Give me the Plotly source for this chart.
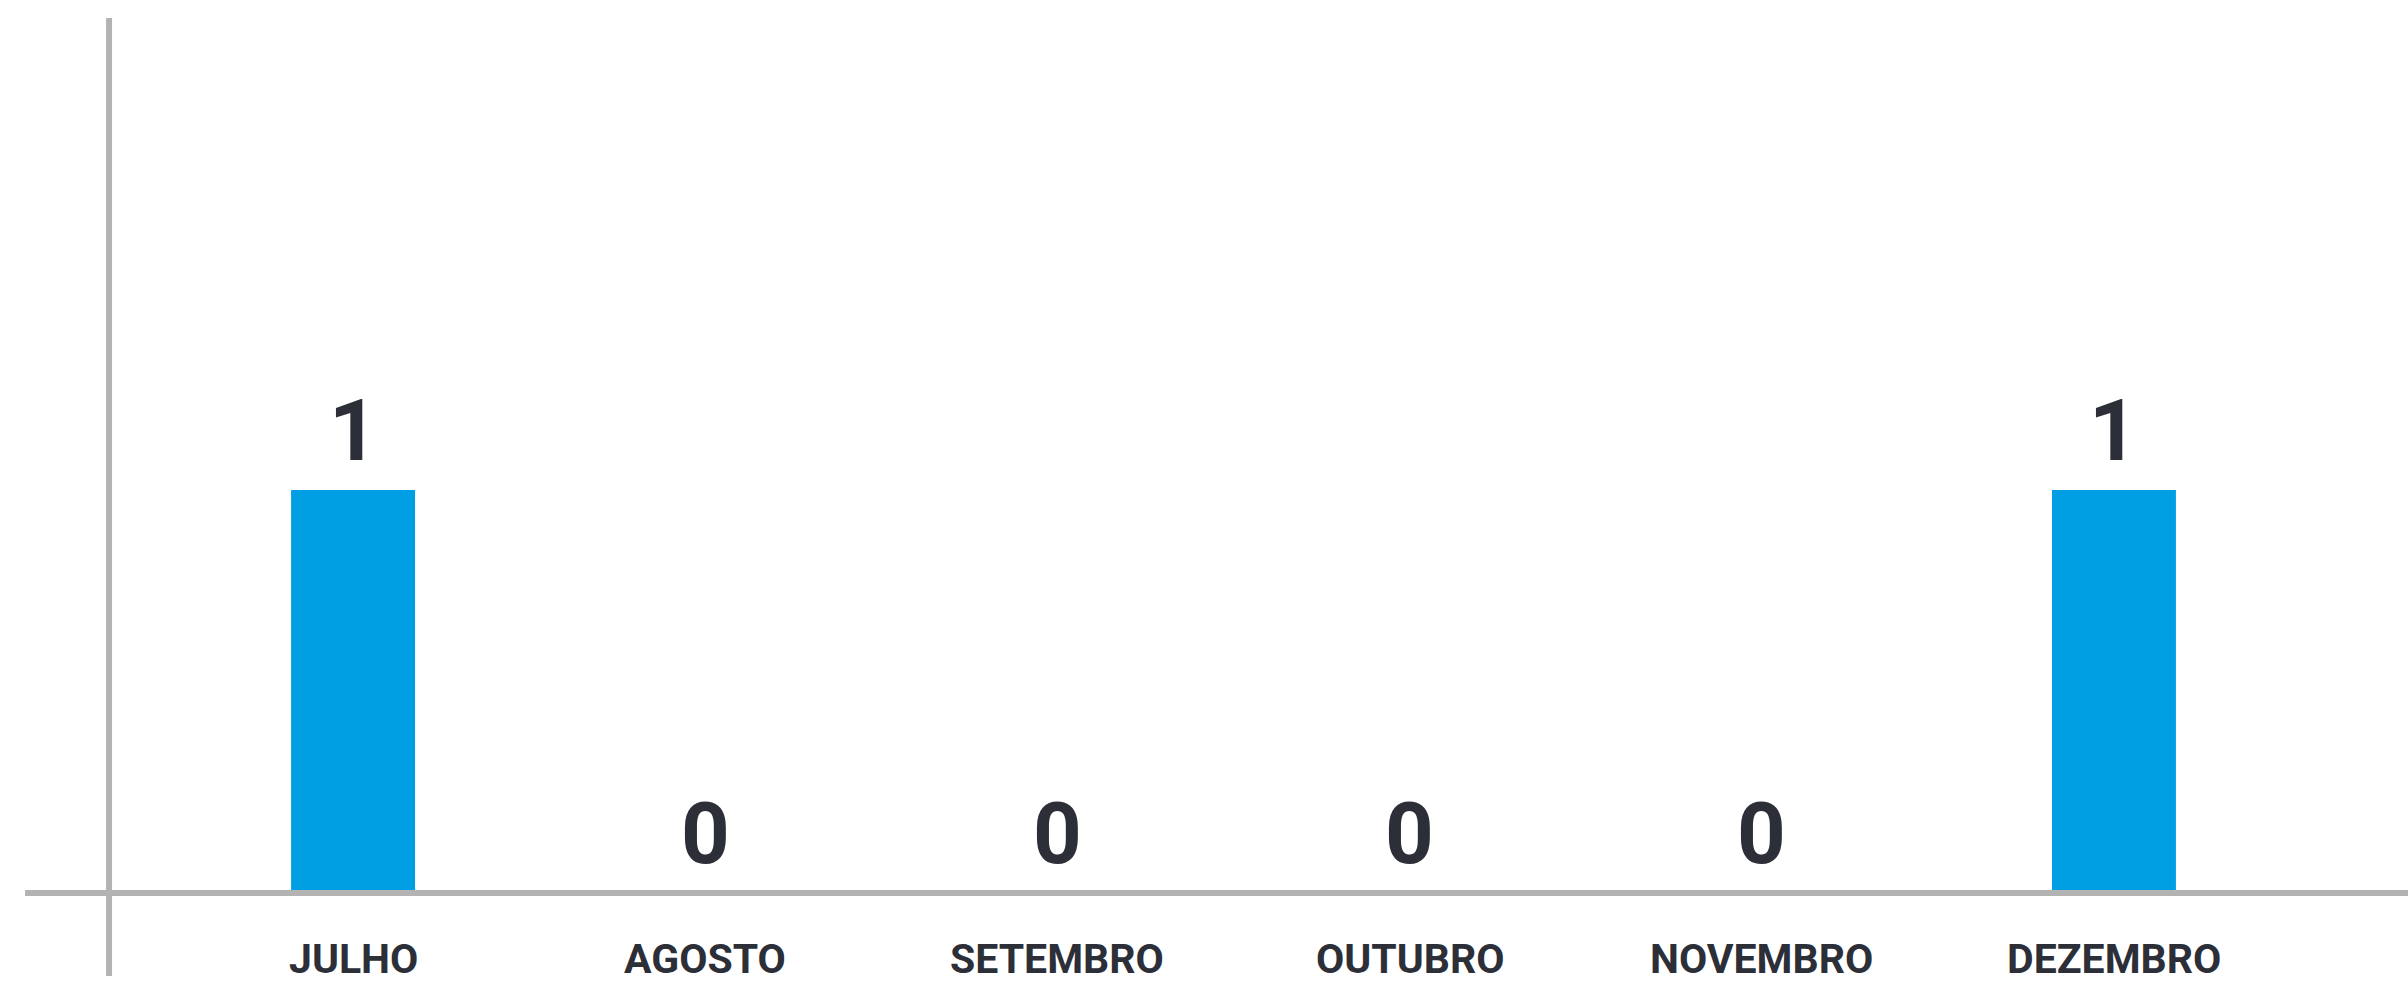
import plotly.graph_objects as go

categories = ["JULHO", "AGOSTO", "SETEMBRO", "OUTUBRO", "NOVEMBRO", "DEZEMBRO"]
values = [1, 0, 0, 0, 0, 1]

BAR_COLOR = "#009fe3"
TEXT_COLOR = "#2c2f38"
AXIS_COLOR = "#b3b3b3"
FONT = "Roboto, DejaVu Sans Condensed, sans-serif"

fig = go.Figure()
fig.add_trace(go.Bar(
    x=categories, y=values, marker=dict(color=BAR_COLOR, line=dict(width=0)),
    width=0.352, hoverinfo="x+y",
))

annotations = []
for c, v in zip(categories, values):
    annotations.append(dict(
        x=c, y=v, xref="x", yref="y", text=f"<b>{v}</b>", showarrow=False,
        yanchor="bottom", yshift=7,
        font=dict(family=FONT, size=85, color=TEXT_COLOR),
    ))
    annotations.append(dict(
        x=c, y=0, xref="x", yref="paper", text=f"<b>{c}</b>", showarrow=False,
        yanchor="bottom", yshift=-9,
        font=dict(family=FONT, size=41, color=TEXT_COLOR),
    ))

shapes = [
    dict(type="line", xref="paper", yref="y", x0=0.0042, x1=1, y0=0, y1=0,
         line=dict(color=AXIS_COLOR, width=6), layer="above"),
    dict(type="line", xref="paper", yref="paper", x0=0.0393, x1=0.0393, y0=0, y1=1,
         line=dict(color=AXIS_COLOR, width=6), layer="above"),
]

fig.update_layout(
    width=2408, height=985,
    margin=dict(l=15, r=0, t=18, b=9),
    paper_bgcolor="white", plot_bgcolor="white",
    showlegend=False,
    xaxis=dict(type="category", range=[-0.96, 5.835], visible=False, fixedrange=True),
    yaxis=dict(range=[-0.206, 2.171], visible=False, fixedrange=True),
    annotations=annotations,
    shapes=shapes,
)

fig.write_html(
    "out.html",
    config={"displayModeBar": False},
    post_script="document.body.style.margin='0';document.body.style.overflow='hidden';",
)
